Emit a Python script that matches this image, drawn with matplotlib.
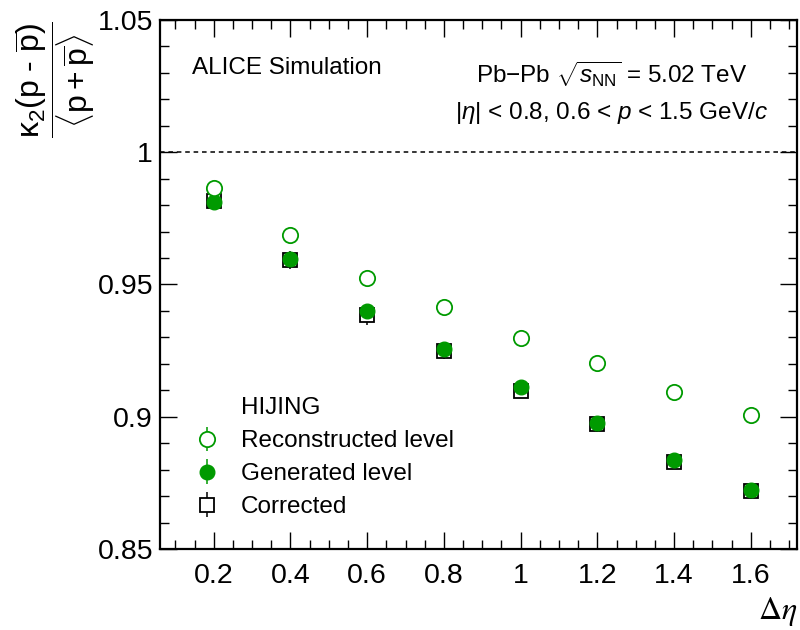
import matplotlib
matplotlib.use("Agg")
import matplotlib.pyplot as plt
from matplotlib.lines import Line2D
from matplotlib.ticker import MultipleLocator

plt.rcParams['font.family'] = ['Liberation Sans', 'DejaVu Sans']
plt.rcParams['mathtext.fontset'] = 'custom'
plt.rcParams['mathtext.rm'] = 'Liberation Sans'
plt.rcParams['mathtext.it'] = 'Liberation Sans:italic'
plt.rcParams['mathtext.bf'] = 'Liberation Sans:bold'

# Delta-eta windows
delta_eta = [0.2, 0.4, 0.6, 0.8, 1.0, 1.2, 1.4, 1.6]

# HIJING normalised second cumulant of net-protons
reco = [0.9864, 0.9687, 0.9523, 0.9416, 0.9299, 0.9204, 0.9094, 0.9008]
reco_err = [0.0010, 0.0010, 0.0010, 0.0010, 0.0010, 0.0010, 0.0010, 0.0010]

gen = [0.9811, 0.9595, 0.9401, 0.9255, 0.9111, 0.8975, 0.8836, 0.8723]
gen_err = [0.0015, 0.0018, 0.0020, 0.0016, 0.0015, 0.0015, 0.0014, 0.0015]

corr = [0.9816, 0.9593, 0.9384, 0.9249, 0.9097, 0.8973, 0.8829, 0.8718]
corr_err = [0.0025, 0.0035, 0.0038, 0.0030, 0.0026, 0.0030, 0.0025, 0.0030]

green = '#009a00'

fig = plt.figure(figsize=(8.0, 6.3), dpi=100)
ax = fig.add_axes([0.200, 0.1286, 0.796, 0.8397])

ax.axhline(1.0, color='black', lw=1.1, ls=(0, (3, 2.5)), zorder=1)

# hollow markers get a white face so the error bar does not show inside them
h_corr = ax.errorbar(delta_eta, corr, yerr=corr_err, fmt='s', ms=10.5,
                     mfc='white', mec='black', mew=1.3, ecolor='black',
                     elinewidth=1.1, capsize=0, zorder=3)
h_gen = ax.errorbar(delta_eta, gen, yerr=gen_err, fmt='o', ms=10.5,
                    mfc=green, mec=green, mew=1.0, ecolor=green,
                    elinewidth=1.1, capsize=0, zorder=4)
h_reco = ax.errorbar(delta_eta, reco, yerr=reco_err, fmt='o', ms=11,
                     mfc='white', mec=green, mew=1.3, ecolor=green,
                     elinewidth=1.1, capsize=0, zorder=4)

ax.set_xlim(0.06, 1.72)
ax.set_ylim(0.85, 1.05)
ax.xaxis.set_major_locator(MultipleLocator(0.2))
ax.xaxis.set_minor_locator(MultipleLocator(0.05))
ax.yaxis.set_major_locator(MultipleLocator(0.05))
ax.yaxis.set_minor_locator(MultipleLocator(0.01))

xt = [0.2, 0.4, 0.6, 0.8, 1.0, 1.2, 1.4, 1.6]
ax.set_xticks(xt)
ax.set_xticklabels(['0.2', '0.4', '0.6', '0.8', '1', '1.2', '1.4', '1.6'])
ax.set_yticks([0.85, 0.9, 0.95, 1.0, 1.05])
ax.set_yticklabels(['0.85', '0.9', '0.95', '1', '1.05'])

for s in ax.spines.values():
    s.set_linewidth(1.6)
ax.tick_params(which='both', direction='in', top=True, right=True,
               width=1.0, labelsize=20.5)
ax.tick_params(which='major', length=12.5)
ax.tick_params(which='minor', length=6.5)
ax.tick_params(axis='y', pad=5)
ax.tick_params(axis='x', pad=10)

ax.text(0.05, 0.91, 'ALICE Simulation', transform=ax.transAxes,
        fontsize=17.5, ha='left', va='center')
ax.text(0.709, 0.898, r'Pb$-$Pb $\sqrt{s_{\mathrm{NN}}}$ = 5.02 TeV',
        transform=ax.transAxes, fontsize=17.5, ha='center', va='center')
ax.text(0.709, 0.824,
        r'|$\eta$| < 0.8, 0.6 < $p$ < 1.5 GeV/$c$',
        transform=ax.transAxes, fontsize=17.5, ha='center', va='center')

blank = Line2D([], [], ls='none', marker='none')
leg = ax.legend([blank, h_reco, h_gen, h_corr],
                ['HIJING', 'Reconstructed level', 'Generated level', 'Corrected'],
                loc='lower left', bbox_to_anchor=(0.035, 0.04), frameon=False,
                fontsize=17.5, handlelength=1.2, handletextpad=0.8,
                labelspacing=0.45, borderaxespad=0.0)

fig.text(55 / 800, 1 - 80 / 630,
         r'$\dfrac{\mathrm{\kappa}_2(\mathrm{p}\ \text{-}\ \overline{\mathrm{p}})}{\langle \mathrm{p} + \overline{\mathrm{p}} \rangle}$',
         rotation=90, ha='center', va='center', fontsize=23)

fig.text(797 / 800, 1 - 612 / 630, r'$\Delta\eta$', ha='right', va='center',
         fontsize=23, math_fontfamily='stix')

fig.savefig('out.png', dpi=100)
